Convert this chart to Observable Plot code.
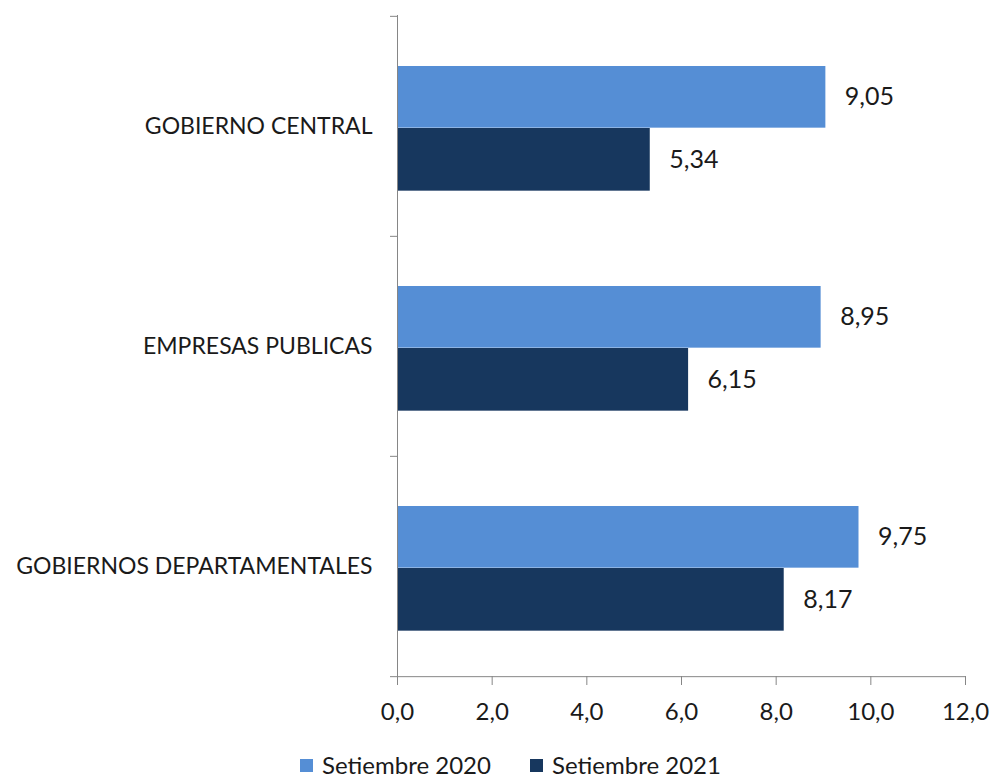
<!DOCTYPE html>
<html>
<head>
<meta charset="utf-8">
<script src="https://cdn.jsdelivr.net/npm/d3@7"></script>
<script src="https://cdn.jsdelivr.net/npm/@observablehq/plot@0.6"></script>
<style>
  html, body { margin: 0; background: #fff; font-family: Lato, "Open Sans", sans-serif; overflow: hidden; }
  #wrap { position: relative; width: 994px; height: 778px; }
  svg { display: block; }
  g[aria-label="x-axis tick"] path { stroke: #868686; }
  .leg { position: absolute; top: 753px; height: 24px; font-size: 24px; line-height: 24px; color: #1a1a1a; display: flex; align-items: center; white-space: nowrap; }
  .sw { width: 13px; height: 13px; margin-right: 9px; display: inline-block; }
</style>
</head>
<body>
<div id="wrap"></div>
<script>
const categories = ["GOBIERNO CENTRAL", "EMPRESAS PUBLICAS", "GOBIERNOS DEPARTAMENTALES"];
const series = ["Setiembre 2020", "Setiembre 2021"];
const values2020 = [9.05, 8.95, 9.75];
const values2021 = [5.34, 6.15, 8.17];
const xTicks = [0, 2, 4, 6, 8, 10, 12];
const colors = ["#558ED5", "#17375E"];

const fmt = d => d.toFixed(2).replace(".", ",");
const fmtTick = d => d.toFixed(1).replace(".", ",");

const d2020 = categories.map((c, i) => ({cat: c, value: values2020[i]}));
const d2021 = categories.map((c, i) => ({cat: c, value: values2021[i]}));

const W = 994, H = 730, mT = 15, mB = 54, mL = 397, mR = 29;
const step = (H - mT - mB) / categories.length;
const half = step / 2;
const axisGray = "#868686";

const chart = Plot.plot({
  width: W, height: H,
  marginTop: mT, marginBottom: mB, marginLeft: mL, marginRight: mR,
  style: {fontFamily: "Lato, 'Open Sans', sans-serif", color: "#1a1a1a", background: "#fff"},
  x: {domain: [0, 12]},
  y: {domain: categories, padding: 0},
  marks: [
    Plot.barX(d2020, {x: "value", y: "cat", fill: colors[0], insetTop: 50, insetBottom: step - 112}),
    Plot.barX(d2021, {x: "value", y: "cat", fill: colors[1], insetTop: 112, insetBottom: step - 175}),
    Plot.text(d2020, {x: "value", y: "cat", text: d => fmt(d.value), textAnchor: "start", dx: 19, dy: 81 - half, fontSize: 25, fill: "#1a1a1a"}),
    Plot.text(d2021, {x: "value", y: "cat", text: d => fmt(d.value), textAnchor: "start", dx: 19, dy: 143.5 - half, fontSize: 25, fill: "#1a1a1a"}),
    Plot.ruleX([0], {stroke: axisGray}),
    Plot.ruleY(categories, {y: d => d, x1: 0, x2: 0, insetLeft: -7, dy: -half, stroke: axisGray}),
    Plot.ruleY([categories[categories.length - 1]], {y: d => d, x1: 0, x2: 12, insetLeft: -7, dy: half, stroke: axisGray}),
    Plot.axisY({tickSize: 0, tickPadding: 25, fontSize: 23, label: null}),
    Plot.axisX({ticks: xTicks, tickFormat: fmtTick, tickSize: 9, tickPadding: 17, fontSize: 24, label: null})
  ]
});

const wrap = document.getElementById("wrap");
wrap.appendChild(chart);

const legLeft = [300, 530];
series.forEach((s, i) => {
  const div = document.createElement("div");
  div.className = "leg";
  div.style.left = legLeft[i] + "px";
  const sw = document.createElement("span");
  sw.className = "sw";
  sw.style.background = colors[i];
  div.appendChild(sw);
  div.appendChild(document.createTextNode(s));
  wrap.appendChild(div);
});
</script>
</body>
</html>
